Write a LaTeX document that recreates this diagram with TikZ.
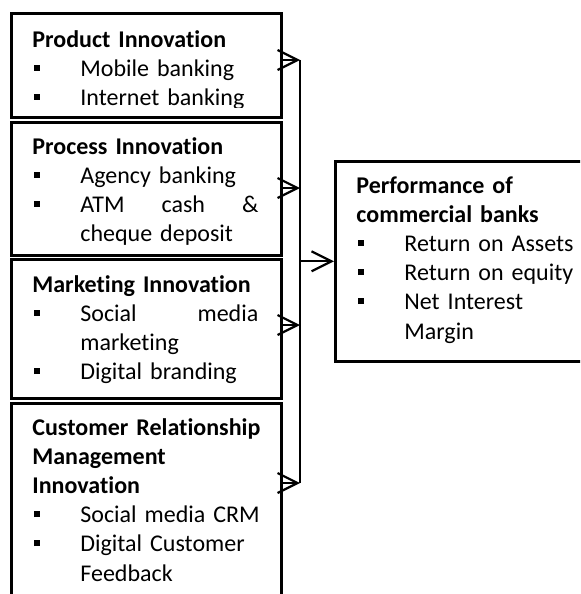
\documentclass[tikz,border=0pt]{standalone}
\usepackage{fontspec}
\setmainfont{Carlito}[Ligatures={CommonOff,ContextualOff}]
\usetikzlibrary{arrows.meta}

% square bullet item, continuation line
\newcommand\bitem[1]{\makebox[24pt][l]{\hspace{0.8pt}\rule[2.8pt]{3pt}{3pt}}#1}
\newcommand\bcont[1]{\hspace*{24pt}#1}

\begin{document}
\begin{tikzpicture}[x=0.5pt,y=-0.5pt,
    box/.style={draw, line width=1.3pt, anchor=north west, inner sep=0pt},
    txt/.style={anchor=base west, inner sep=0pt, text width=125pt, align=left,
                font=\fontsize{12}{14.6}\selectfont},
    bus/.style={line width=0.9pt},
    link/.style={line width=0.9pt, -{Straight Barb[length=10pt,width=10pt,line width=1.1pt]}}]
    \useasboundingbox (0,0) rectangle (580,594);
    \clip (0,0) rectangle (580,594);

    % innovation boxes
    \node[box, minimum width=135pt, minimum height=52pt] (prod) at (10,12) {};
    \node[box, minimum width=135pt, minimum height=66.5pt] (proc) at (10,121) {};
    \node[box, minimum width=135pt, minimum height=69.5pt] (mark) at (10,258) {};
    \node[box, minimum width=135pt, minimum height=120pt] (crm) at (10,402) {};
    % performance box
    \node[box, minimum width=140pt, minimum height=100pt] (perf) at (334,160) {};

    \begin{scope}
        \clip (prod.north west) rectangle ([yshift=5.5pt]prod.south east);
        \node[txt] (prodtxt) at ([shift={(22,35)}]prod.north west)
            {\textbf{Product Innovation}\\
             \bitem{Mobile banking}\\
             \bitem{Internet banking}};
    \end{scope}
    \begin{scope}
        \clip (proc.north west) rectangle ([yshift=5.5pt]proc.south east);
        \node[txt] (proctxt) at ([shift={(22,33)}]proc.north west)
            {\textbf{Process Innovation}\\
             \bitem{Agency banking}\\
             \bitem{\makebox[89pt]{ATM\hfill cash\hfill\&}}\\
             \bcont{cheque deposit}};
    \end{scope}
    \node[txt] (marktxt) at ([shift={(22,34)}]mark.north west)
        {\textbf{Marketing Innovation}\\
         \bitem{\makebox[89pt]{Social\hfill media}}\\
         \bcont{marketing}\\
         \bitem{Digital branding}};
    \node[txt] (crmtxt) at ([shift={(22,33)}]crm.north west)
        {\textbf{Customer Relationship}\\
         \textbf{Management}\\
         \textbf{Innovation}\\
         \bitem{Social media CRM}\\
         \bitem{Digital Customer}\\
         \bcont{Feedback}};
    \node[txt] (perftxt) at ([shift={(22,33)}]perf.north west)
        {\textbf{Performance of}\\
         \textbf{commercial banks}\\
         \bitem{Return on Assets}\\
         \bitem{Return on equity}\\
         \bitem{Net Interest}\\
         \bcont{Margin}};

    % joining line and arrows
    \coordinate (j1) at (300,60);
    \coordinate (j2) at (300,188);
    \coordinate (j3) at (300,325);
    \coordinate (j4) at (300,483);
    \draw[bus] (j1) -- (j4);
    \draw[link] (prod.east |- j1) -- (j1);
    \draw[link] (proc.east |- j2) -- (j2);
    \draw[link] (mark.east |- j3) -- (j3);
    \draw[link] (crm.east |- j4) -- (j4);
    \draw[link] (j1 |- perf.west) -- (perf.west);
\end{tikzpicture}
\end{document}
